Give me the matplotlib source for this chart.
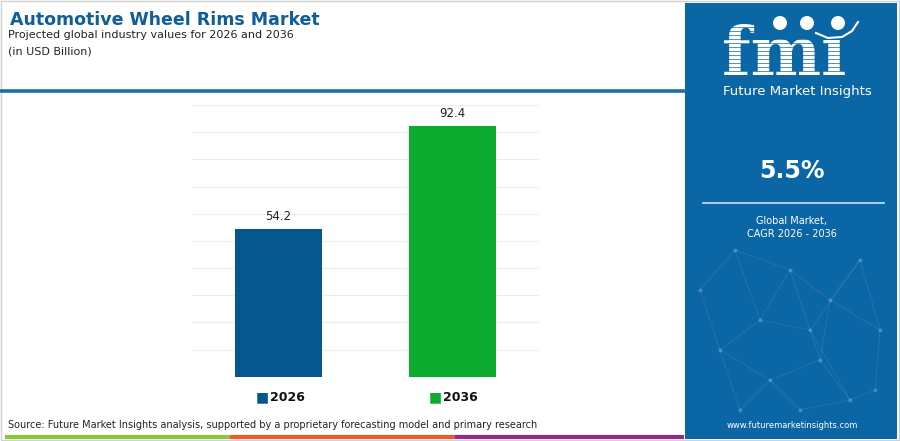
import matplotlib.pyplot as plt
from matplotlib.patches import Rectangle, Circle

years = ["2026", "2036"]
values = [54.2, 92.4]
bar_colors = ["#04588f", "#0aab2f"]
cagr = "5.5%"

title = "Automotive Wheel Rims Market"
subtitle = "Projected global industry values for 2026 and 2036"
unit = "(in USD Billion)"
source = ("Source: Future Market Insights analysis, supported by a proprietary "
          "forecasting model and primary research")

W, H = 900, 441
fig = plt.figure(figsize=(9, 4.41), dpi=100)
fig.patch.set_facecolor("white")

# background axes in pixel coords
bg = fig.add_axes([0, 0, 1, 1])
bg.set_xlim(0, W)
bg.set_ylim(H, 0)
bg.axis("off")

# frame
bg.add_patch(Rectangle((1, 1), W - 2, H - 2, fill=False, ec="#d0d0d0", lw=1))

# header
bg.text(10, 20, title, fontsize=12.5, fontweight="heavy", color="#0f5d99",
        va="center", ha="left")
bg.text(8, 35, subtitle, fontsize=8, color="#222222", va="center")
bg.text(8, 51, unit, fontsize=8, color="#222222", va="center")
bg.plot([0, 686], [91, 91], color="#1f6ea6", lw=2.6, solid_capstyle="butt")

# bottom stripe
bg.plot([5, 230], [437, 437], color="#8cc63f", lw=3, solid_capstyle="butt")
bg.plot([230, 455], [437, 437], color="#f0592a", lw=3, solid_capstyle="butt")
bg.plot([455, 684], [437, 437], color="#912a8c", lw=3, solid_capstyle="butt")
bg.text(8, 425, source, fontsize=7, color="#222222", va="center")

# right panel
panel = "#0b66a6"
bg.add_patch(Rectangle((685, 3), 212, 436, color=panel, lw=0))

# faint network decoration
nodes = [(735, 250), (760, 320), (790, 270), (830, 300), (860, 260),
         (880, 330), (720, 350), (770, 380), (820, 360), (850, 400),
         (800, 410), (740, 410), (875, 390), (700, 290), (810, 330)]
edges = [(0, 1), (0, 2), (1, 2), (2, 3), (3, 4), (4, 5), (1, 6), (6, 7),
         (7, 8), (8, 3), (8, 9), (9, 10), (10, 7), (7, 11), (11, 6), (9, 12),
         (5, 12), (3, 5), (2, 8), (13, 0), (13, 6), (14, 1), (14, 4), (14, 9)]
for a, b in edges:
    bg.plot([nodes[a][0], nodes[b][0]], [nodes[a][1], nodes[b][1]],
            color="white", alpha=0.08, lw=0.8)
for x, y in nodes:
    bg.plot(x, y, "o", color="white", alpha=0.15, ms=2)

# fmi logo (striped letters, globes above)
bg.text(784, 75, "fm\u0131", fontsize=48, fontweight="heavy", family="DejaVu Serif",
        color="white", ha="center", va="baseline", zorder=3)
for yy in range(27, 76, 4):
    bg.plot([716, 860], [yy, yy], color=panel, lw=0.5, zorder=4)
for cx in (780, 807, 838):
    bg.add_patch(Circle((cx, 23), 7, color="white", lw=0, zorder=5))
bg.plot([816, 828, 842, 852, 858], [33, 38, 37, 31, 22], color="white",
        lw=1.5, zorder=5)
bg.text(797, 92, "Future Market Insights", fontsize=9.5, color="white",
        ha="center", va="center")

bg.text(792, 171, cagr, fontsize=17, fontweight="bold", color="white",
        ha="center", va="center")
bg.plot([703, 884], [203, 203], color="#cfe2f0", lw=1.2)
bg.text(792, 221, "Global Market,", fontsize=7, color="white", ha="center", va="center")
bg.text(792, 234, "CAGR 2026 - 2036", fontsize=7, color="white", ha="center", va="center")
bg.text(792, 425, "www.futuremarketinsights.com", fontsize=6, color="white",
        ha="center", va="center")

# bar chart
ax = fig.add_axes([191.7 / W, 1 - 376.7 / H, 347.6 / W, 271.7 / H])
ax.set_xlim(-0.5, 1.5)
ax.set_ylim(0, 100)
ax.set_yticks(range(0, 101, 10))
ax.yaxis.grid(True, color="#ececec", lw=0.8)
ax.set_axisbelow(True)
ax.tick_params(left=False, bottom=False, labelleft=False, labelbottom=False)
for s in ax.spines.values():
    s.set_visible(False)
ax.patch.set_alpha(0)

x = range(len(years))
ax.bar(x, values, width=0.5, color=bar_colors)
for i, v in zip(x, values):
    ax.annotate(f"{v}", (i, v), xytext=(0, 9), textcoords="offset points",
                ha="center", va="center", fontsize=8.5, color="#222222")

# category labels with squares
for i, (yr, c) in enumerate(zip(years, bar_colors)):
    ax.annotate("\u25A0", (i, 0), xytext=(-12, -15), textcoords="offset points",
                ha="center", va="center", fontsize=10, color=c)
    ax.annotate(yr, (i, 0), xytext=(-6.5, -15), textcoords="offset points",
                ha="left", va="center", fontsize=9, fontweight="bold",
                color="#111111")

fig.savefig("out.png", dpi=100)
